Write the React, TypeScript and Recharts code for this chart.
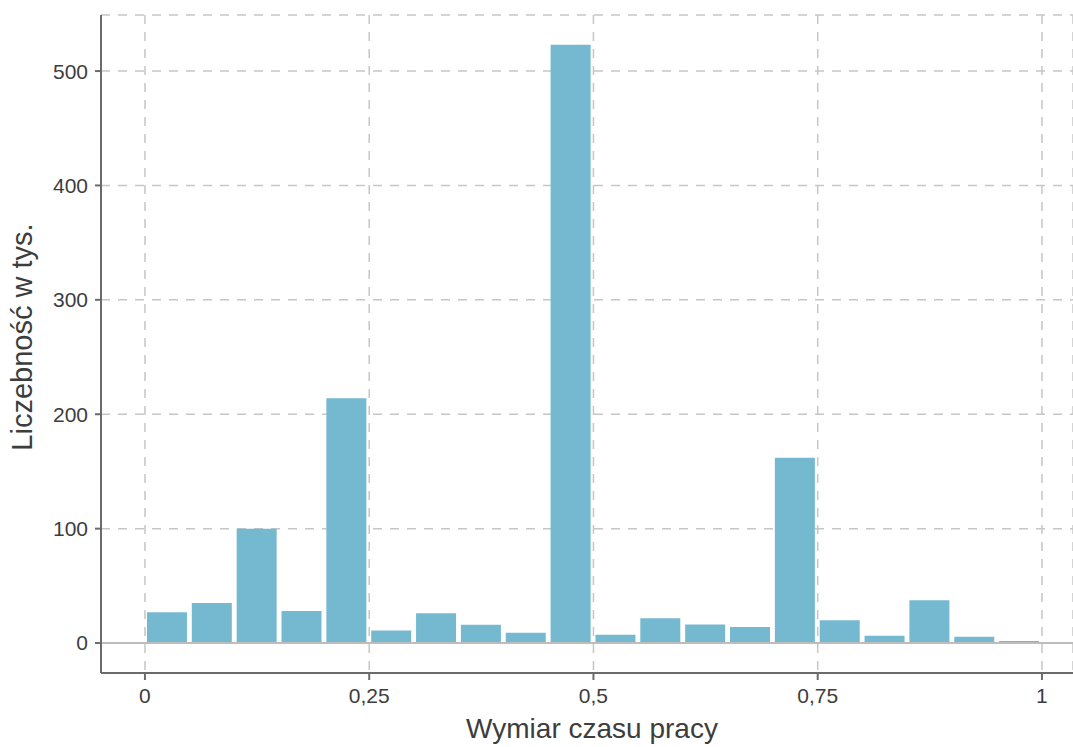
import { Bar, BarChart, CartesianGrid, ReferenceLine, XAxis, YAxis } from "recharts";

// histogram of working-time fraction, bins of width 0.05 (centers)
const BIN_CENTERS = [0.025, 0.075, 0.125, 0.175, 0.225, 0.275, 0.325, 0.375, 0.425, 0.475,
                     0.525, 0.575, 0.625, 0.675, 0.725, 0.775, 0.825, 0.875, 0.925, 0.975];
const COUNTS = [27, 35, 100, 28, 214, 11, 26, 16, 9, 523,
                7.3, 21.6, 16.3, 14, 162, 20, 6.4, 37.5, 5.5, 1.8];
const X_TICKS = [0, 0.25, 0.5, 0.75, 1];
const Y_TICKS = [0, 100, 200, 300, 400, 500];

const rows = BIN_CENTERS.map((x, i) => ({ x, n: COUNTS[i] }));

const FONT = '"Liberation Sans", Arial, sans-serif';
const TICK = { fontFamily: FONT, fontSize: 21, fill: "#3d3d3d" };
const AXIS = { stroke: "#6b6b6b", strokeWidth: 2 };

export default function App() {
  return (
    <div style={{ position: "absolute", left: 0, top: 0, width: 1073, height: 747, overflow: "hidden" }}>
      <BarChart width={1073} height={747} data={rows}
                margin={{ top: 15, right: 0, bottom: 0, left: 0 }}>
        <CartesianGrid stroke="#c6c6c6" strokeWidth={1.5} strokeDasharray="9 8" />
        <XAxis dataKey="x" type="number" domain={[-0.049, 1.0346]} allowDataOverflow
               ticks={X_TICKS} tickFormatter={(v: number) => String(v).replace(".", ",")}
               axisLine={AXIS} tickLine={AXIS} tickSize={7} tickMargin={8}
               tick={TICK} height={74} />
        <YAxis type="number" domain={[-26.2, 549]} allowDataOverflow ticks={Y_TICKS}
               axisLine={AXIS} tickLine={AXIS} tickSize={6} tickMargin={7}
               tick={TICK} width={101} />
        <ReferenceLine y={0} stroke="#bdbdbd" strokeWidth={2} />
        <Bar dataKey="n" fill="#74b9d0" barSize={40} isAnimationActive={false} />
      </BarChart>
      <div style={{ position: "absolute", left: 22, top: 337, transform: "translate(-50%, -50%) rotate(-90deg)",
                    whiteSpace: "nowrap", fontFamily: FONT, fontSize: 29, lineHeight: 1, color: "#3d3d3d" }}>
        Liczebność w tys.
      </div>
      <div style={{ position: "absolute", left: 592, top: 715, transform: "translate(-50%, 0)",
                    whiteSpace: "nowrap", fontFamily: FONT, fontSize: 28, lineHeight: 1, color: "#3d3d3d" }}>
        Wymiar czasu pracy
      </div>
    </div>
  );
}
